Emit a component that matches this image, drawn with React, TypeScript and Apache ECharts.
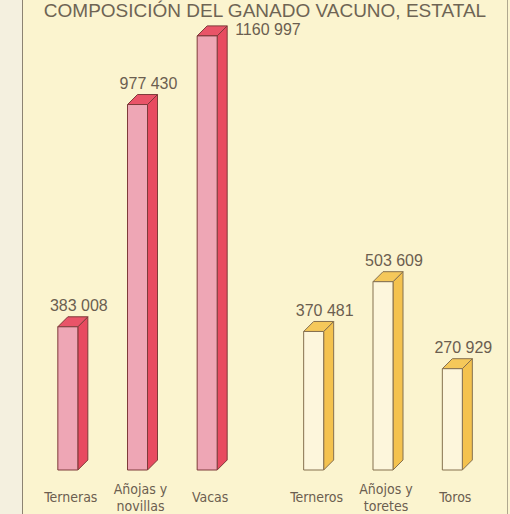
import React, { useEffect, useRef } from "react";
import * as echarts from "echarts";

const title = "COMPOSICIÓN DEL GANADO VACUNO, ESTATAL";
const femaleCategories = ["Terneras", "Añojas y\nnovillas", "Vacas"];
const femaleValues = [383008, 977430, 1160997];
const maleCategories = ["Terneros", "Añojos y\ntoretes", "Toros"];
const maleValues = [370481, 503609, 270929];

const Y_MAX = 1200000;

const fmt = (v: number) => {
  const k = Math.floor(v / 1000);
  const r = String(v % 1000).padStart(3, "0");
  return k + " " + r;
};

const LABEL_COLOR = "#6b5e50";
const FONT = "'Liberation Sans', Arial, sans-serif";
const NARROW = "'Liberation Sans Narrow', 'DejaVu Sans Condensed', 'Liberation Sans', sans-serif";

function makeRender(front: string, side: string, topc: string, stroke: string, maxVal: number) {
  return (params: any, api: any) => {
    const idx = api.value(0);
    const v = api.value(1);
    const top = api.coord([idx, v]);
    const base = api.coord([idx, 0]);
    const cx = top[0];
    const x0 = cx - 13;
    const x1 = cx + 7;
    const d = 10;
    const yT = top[1];
    const yB = base[1];
    const isMax = v === maxVal;
    return {
      type: "group",
      children: [
        {
          type: "polygon",
          shape: { points: [[x1, yT], [x1 + d, yT - d], [x1 + d, yB - d], [x1, yB]] },
          style: { fill: side, stroke, lineWidth: 1 },
        },
        {
          type: "polygon",
          shape: { points: [[x0, yT], [x0 + d, yT - d], [x1 + d, yT - d], [x1, yT]] },
          style: { fill: topc, stroke, lineWidth: 1 },
        },
        {
          type: "rect",
          shape: { x: x0, y: yT, width: x1 - x0, height: yB - yT },
          style: { fill: front, stroke, lineWidth: 1 },
        },
        {
          type: "text",
          style: {
            text: fmt(v),
            x: isMax ? cx + 25 : cx + 8,
            y: isMax ? yT - 6 : yT - 21,
            align: isMax ? "left" : "center",
            verticalAlign: "middle",
            fontSize: 16,
            fontFamily: FONT,
            fill: LABEL_COLOR,
          },
        },
      ],
    };
  };
}

export default function App() {
  const ref = useRef<HTMLDivElement>(null);
  useEffect(() => {
    if (!ref.current) return;
    const chart = echarts.init(ref.current, null, { renderer: "svg" });
    const allMax = Math.max(...femaleValues, ...maleValues);
    const xAxisBase = {
      type: "category",
      axisLine: { show: false },
      axisTick: { show: false },
      splitLine: { show: false },
      axisLabel: {
        interval: 0,
        margin: 27,
        verticalAlign: "middle",
        lineHeight: 17,
        fontSize: 14,
        fontFamily: NARROW,
        color: LABEL_COLOR,
      },
    };
    const yAxisBase = { type: "value", min: 0, max: Y_MAX, show: false };
    chart.setOption({
      animation: false,
      backgroundColor: "#fbf4cf",
      graphic: [
        { type: "rect", shape: { x: 0, y: 0, width: 22, height: 514 }, style: { fill: "#f4f0df" }, z: -10 },
        { type: "line", shape: { x1: 22.5, y1: 0, x2: 22.5, y2: 514 }, style: { stroke: "#8c8372", lineWidth: 1 } },
        { type: "line", shape: { x1: 507.5, y1: 0, x2: 507.5, y2: 514 }, style: { stroke: "#b0a890", lineWidth: 1 } },
        {
          type: "text",
          x: 265,
          y: 10,
          style: {
            text: title,
            align: "center",
            verticalAlign: "middle",
            fontSize: 19,
            fontFamily: FONT,
            fill: "#6e6454",
          },
        },
      ],
      grid: [
        { left: 36, width: 209, top: 21.3, bottom: 41 },
        { left: 282, width: 208, top: 21.3, bottom: 41 },
      ],
      xAxis: [
        { ...xAxisBase, gridIndex: 0, data: femaleCategories },
        { ...xAxisBase, gridIndex: 1, data: maleCategories },
      ],
      yAxis: [
        { ...yAxisBase, gridIndex: 0 },
        { ...yAxisBase, gridIndex: 1 },
      ],
      series: [
        {
          type: "custom",
          xAxisIndex: 0,
          yAxisIndex: 0,
          encode: { x: 0, y: 1 },
          data: femaleValues.map((v, i) => [i, v]),
          renderItem: makeRender("#eea6b5", "#e84a60", "#e95468", "#7e3a3a", allMax),
        },
        {
          type: "custom",
          xAxisIndex: 1,
          yAxisIndex: 1,
          encode: { x: 0, y: 1 },
          data: maleValues.map((v, i) => [i, v]),
          renderItem: makeRender("#fdf6dc", "#f4c24e", "#f5c85a", "#85704f", allMax),
        },
      ],
    });
    return () => chart.dispose();
  }, []);
  return (
    <div
      ref={ref}
      style={{ position: "fixed", left: 0, top: 0, width: 510, height: 514 }}
    />
  );
}
